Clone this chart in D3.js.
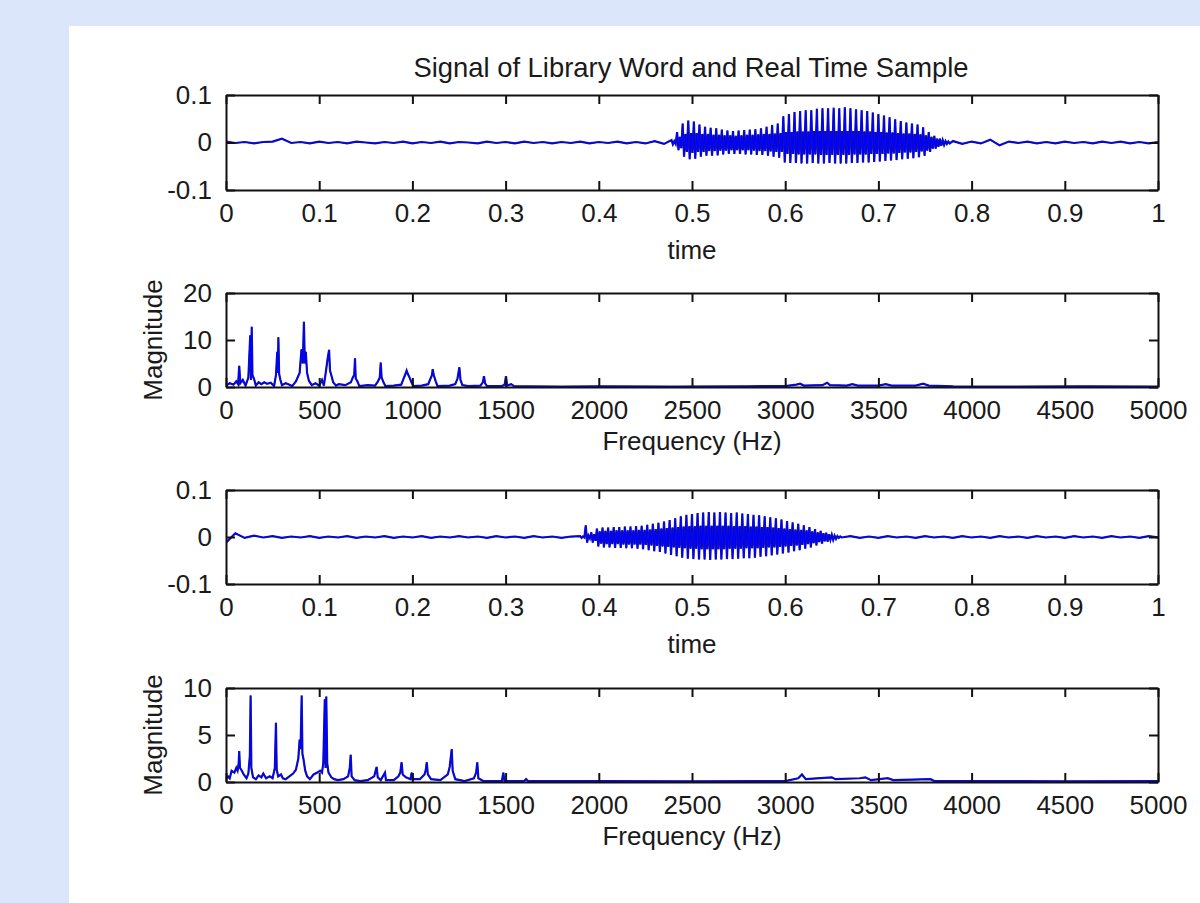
<!DOCTYPE html>
<html>
<head>
<meta charset="utf-8">
<script src="https://cdn.jsdelivr.net/npm/d3@7"></script>
<style>
  html, body { margin: 0; padding: 0; background: #dce6fb; }
  svg { display: block; }
  text { font-family: "Liberation Sans", Arial, sans-serif; fill: #1a1a1a; }
</style>
</head>
<body>
<svg id="chart" width="1200" height="903"></svg>
<script>
// ---------------- DATA ----------------
const titleText = "Signal of Library Word and Real Time Sample";
const timeTicks = [0, 0.1, 0.2, 0.3, 0.4, 0.5, 0.6, 0.7, 0.8, 0.9, 1];
const freqTicks = [0, 500, 1000, 1500, 2000, 2500, 3000, 3500, 4000, 4500, 5000];
const sigYTicks = [-0.1, 0, 0.1];
const spec1YTicks = [0, 10, 20];
const spec2YTicks = [0, 5, 10];

// Time signals, amplitudes in thousandths (x 0.001)
// quiet start: t = 0, 0.01, 0.02 ...
const sig1QuietStart = [2,-1,1,-2,1,2,8,-1,1,-2,2,-1,1,-2,2,0,-2,1,-1,2,-2,1,-1,2,-2,1,0,-2,2,-1,1,-2,2,-1,1,-2,1,-1,2,-2,1,-1,2,-2,1,-2,3,-3];
// voiced: from t = 0.478, step 0.0015
const sig1VoicedStart = 0.478;
const sig1Voiced = [
 5,-4,3,-3, 22,-16,12,-12, 40,-30,18,-20, 46,-35,20,-22, 44,-34,20,-20,
 38,-30,18,-20, 33,-28,18,-18, 31,-28,16,-18, 30,-27,16,-17, 27,-25,15,-17,
 25,-24,15,-16, 24,-24,14,-16, 25,-24,15,-16, 26,-25,16,-16, 27,-25,16,-17,
 28,-26,17,-18, 30,-26,18,-18, 33,-28,18,-19, 37,-30,19,-20, 40,-32,20,-20,
 55,-42,22,-24, 60,-43,22,-24, 64,-43,23,-25, 66,-44,23,-25, 68,-44,23,-25,
 68,-43,24,-25, 71,-44,24,-26, 72,-44,24,-26, 72,-43,24,-26, 73,-44,24,-26,
 72,-44,24,-26, 74,-44,24,-26, 72,-43,24,-25, 70,-43,24,-25, 68,-42,23,-25,
 66,-42,23,-24, 63,-41,22,-24, 60,-40,22,-24, 57,-39,21,-23, 53,-38,21,-23,
 49,-37,20,-22, 45,-35,19,-21, 42,-34,19,-21, 40,-33,18,-20, 38,-31,17,-19,
 32,-28,15,-17, 22,-20,12,-13, 14,-13,8,-9, 8,-7,5,-5, 3,-3,2,-2
];
// quiet end: t = 0.78, 0.79 ... 1.00
const sig1QuietEndStart = 0.78;
const sig1QuietEnd = [3,-3,2,-2,6,-6,2,-1,2,-2,1,-2,2,-1,1,-2,2,-1,2,-2,1,-2,1];

const sig2QuietStart = [-12,8,-2,3,-1,2,-2,1,-1,2,-2,1,-1,2,-2,1,-1,2,-2,1,-1,2,-2,1,-1,2,-1,1,-2,2,-1,1,-2,2,-1,1,-2,1];
const sig2VoicedStart = 0.380;
const sig2Voiced = [
 2,-2,1,-1, 25,-12,3,-3,
 10,-12,6,-8, 18,-20,12,-14, 20,-22,13,-15, 20,-22,13,-15, 21,-23,14,-15,
 21,-23,14,-16, 22,-24,14,-16, 22,-24,14,-16, 23,-25,15,-16, 24,-26,15,-17,
 26,-28,16,-18, 28,-30,17,-19, 30,-32,18,-20, 33,-35,19,-21, 36,-38,20,-22,
 40,-41,21,-23, 44,-44,22,-24, 47,-46,23,-25, 49,-47,23,-25, 51,-48,24,-26,
 52,-48,24,-26, 53,-49,24,-26, 52,-48,24,-26, 53,-48,24,-26, 52,-47,24,-25,
 51,-47,23,-25, 52,-46,23,-25, 50,-45,23,-24, 49,-45,22,-24, 47,-44,22,-24,
 46,-42,21,-23, 44,-41,21,-22, 42,-39,20,-22, 40,-37,19,-21, 37,-35,18,-20,
 34,-33,17,-19, 31,-30,16,-18, 28,-28,15,-17, 25,-25,14,-15, 21,-22,12,-13,
 17,-18,10,-11, 13,-14,8,-9, 9,-10,6,-6, 5,-6,3,-4, 2,-2,1,-1
];
const sig2QuietEndStart = 0.67;
const sig2QuietEnd = [2,-2,1,-2,2,-1,1,-2,2,-1,1,-2,2,-1,1,-2,2,-1,1,-2,2,-1,1,-2,2,-1,1,-2,2,-1,1,-2,2,-1];

// Spectra: [frequency Hz, magnitude]
const spec1 = [
 [0,0.3],[20,0.8],[40,0.5],[55,1.2],[65,0.6],[71,4.5],[77,0.8],[90,1.5],[105,0.3],[120,2],[130,11],[134,1.5],[138,12.8],[142,2.5],[150,1.8],[160,0.3],
 [175,1],[190,0.6],[205,1],[220,0.7],[240,0.9],[258,0.2],[268,2.5],[275,7.5],[278,3],[281,10.6],[285,2.8],[292,1.5],[300,0.4],[320,0.8],[340,0.5],[355,0.2],
 [375,1.2],[395,3],[405,8],[412,5],[418,13.9],[423,5],[428,7.5],[435,3],[445,1.3],[460,0.4],[480,0.8],[500,0.3],[515,1.5],[525,0.3],[535,3],[545,6],[553,7.9],
 [558,3.5],[565,2.5],[575,1],[590,0.3],[605,0.6],[640,0.4],[670,1],[680,2],[688,2.6],[692,6.1],[696,1.8],[705,1.2],[715,0.2],[760,0.4],[800,0.3],[815,1.2],
 [825,2],[830,5.2],[835,2],[845,1],[855,0.2],[900,0.3],[940,0.5],[950,1.5],[960,2.5],[969,3.5],[975,2.8],[985,2],[995,1],[1005,0.2],[1050,0.3],[1085,0.6],
 [1095,1.6],[1105,2.5],[1109,3.8],[1115,2.5],[1125,1.2],[1135,0.2],[1200,0.3],[1230,0.6],[1242,1.8],[1252,4.2],[1258,1.5],[1268,0.4],[1300,0.2],[1365,0.3],
 [1378,1],[1384,2.3],[1390,0.8],[1400,0.2],[1480,0.2],[1495,0.5],[1502,2.3],[1508,0.3],[1530,0.6],[1545,0.2],[1600,0.15],[1800,0.1],[2000,0.15],[2400,0.1],
 [2800,0.15],[3000,0.2],[3060,0.5],[3080,0.7],[3100,0.3],[3200,0.4],[3225,0.9],[3240,0.4],[3330,0.3],[3360,0.6],[3390,0.3],[3500,0.3],[3540,0.6],[3570,0.3],
 [3700,0.3],[3740,0.7],[3770,0.3],[3900,0.15],[4200,0.1],[4600,0.12],[5000,0.1]
];
const spec2 = [
 [0,0.3],[10,0.6],[20,0.4],[30,1.2],[45,1],[55,1.5],[62,1.2],[68,2],[71,3.3],[75,1.5],[85,1.2],[95,0.8],[110,0.4],[120,0.9],[128,2.8],[132,9.2],[136,1.5],
 [145,0.5],[160,0.3],[175,0.7],[190,0.5],[200,0.9],[215,0.4],[235,0.6],[250,0.4],[262,1.5],[268,6.3],[272,1.3],[280,0.6],[295,0.8],[305,0.4],[320,0.3],
 [340,0.6],[360,0.9],[375,1.3],[388,2.5],[395,4.5],[400,3.5],[406,9.2],[410,3],[416,2.4],[425,1.2],[435,0.6],[450,0.3],[470,0.8],[490,1],[505,1.2],[515,1],
 [522,2],[530,8.8],[534,1.5],[538,9.1],[543,2],[550,1],[565,0.5],[580,0.3],[600,0.2],[630,0.3],[655,0.6],[664,1.5],[669,2.9],[674,0.6],[690,0.2],[720,0.1],
 [760,0.2],[795,0.6],[808,1.6],[814,0.5],[830,0.2],[853,1],[858,0.2],[900,0.2],[925,0.6],[935,1],[942,2.1],[948,0.8],[965,0.5],[990,0.3],[996,1],[1002,0.3],
 [1040,0.3],[1065,0.8],[1072,1.3],[1077,2.1],[1083,0.8],[1100,0.3],[1150,0.2],[1190,0.8],[1200,1.6],[1211,3.5],[1216,1.2],[1230,0.3],[1280,0.1],[1330,0.4],
 [1342,1],[1348,2.1],[1354,0.4],[1380,0.1],[1480,0.1],[1488,1],[1494,0.1],[1600,0.1],[1610,0.3],[1620,0.1],[2000,0.1],[2500,0.08],[3000,0.1],[3070,0.4],
 [3090,0.8],[3110,0.3],[3250,0.5],[3270,0.3],[3400,0.4],[3430,0.5],[3460,0.2],[3550,0.4],[3580,0.2],[3780,0.3],[3800,0.1],[4500,0.08],[5000,0.1]
];

// ---------------- BUILD ----------------
function buildSignal(qStart, vStart, voiced, qEndStart, qEnd) {
  const pts = [];
  qStart.forEach((v, i) => pts.push([i * 0.01, v / 1000]));
  voiced.forEach((v, i) => pts.push([vStart + i * 0.0015, v / 1000]));
  qEnd.forEach((v, i) => pts.push([qEndStart + i * 0.01, v / 1000]));
  return pts;
}
const signal1 = buildSignal(sig1QuietStart, sig1VoicedStart, sig1Voiced, sig1QuietEndStart, sig1QuietEnd);
const signal2 = buildSignal(sig2QuietStart, sig2VoicedStart, sig2Voiced, sig2QuietEndStart, sig2QuietEnd);

const svg = d3.select("#chart");
svg.append("rect").attr("x", 0).attr("y", 0).attr("width", 1200).attr("height", 903).attr("fill", "#dce6fb");
svg.append("rect").attr("x", 69).attr("y", 26).attr("width", 1131).attr("height", 877).attr("fill", "#ffffff");

const left = 226, right = 1158;
const FS = 26;

const panels = [
  { data: signal1, top: 95, bottom: 190, x: [0, 1], y: [-0.1, 0.1], xt: timeTicks, yt: sigYTicks, xlabel: "time", xlOff: 69, ylabel: null },
  { data: spec1, top: 293, bottom: 387, x: [0, 5000], y: [0, 20], xt: freqTicks, yt: spec1YTicks, xlabel: "Frequency (Hz)", xlOff: 63, ylabel: "Magnitude" },
  { data: signal2, top: 490, bottom: 584, x: [0, 1], y: [-0.1, 0.1], xt: timeTicks, yt: sigYTicks, xlabel: "time", xlOff: 69, ylabel: null },
  { data: spec2, top: 688, bottom: 782, x: [0, 5000], y: [0, 10], xt: freqTicks, yt: spec2YTicks, xlabel: "Frequency (Hz)", xlOff: 63, ylabel: "Magnitude" }
];

const fmt = d => String(d);

panels.forEach((p, idx) => {
  const xs = d3.scaleLinear().domain(p.x).range([left, right]);
  const ys = d3.scaleLinear().domain(p.y).range([p.bottom, p.top]);
  const g = svg.append("g");

  const clipId = "clip" + idx;
  svg.append("clipPath").attr("id", clipId).append("rect")
    .attr("x", left).attr("y", p.top).attr("width", right - left).attr("height", p.bottom - p.top);

  const line = d3.line().x(d => xs(d[0])).y(d => ys(d[1]));
  // dark outline (emulates the compressed look of the original trace)
  g.append("path").datum(p.data)
    .attr("clip-path", `url(#${clipId})`)
    .attr("d", line)
    .attr("fill", "none")
    .attr("stroke", "#1c1c86")
    .attr("stroke-width", 2.2);
  g.append("path").datum(p.data)
    .attr("clip-path", `url(#${clipId})`)
    .attr("d", line)
    .attr("fill", "none")
    .attr("stroke", "#0000ff")
    .attr("stroke-width", 1.2);

  const axStyle = sel => {
    sel.selectAll("path.domain").attr("stroke", "#111").attr("stroke-width", 2);
    sel.selectAll(".tick line").attr("stroke", "#111").attr("stroke-width", 2);
    sel.selectAll("text").attr("font-size", FS).attr("font-family", '"Liberation Sans", Arial, sans-serif').attr("fill", "#1a1a1a");
  };

  g.append("g").attr("transform", `translate(0,${p.bottom})`)
    .call(d3.axisBottom(xs).tickValues(p.xt).tickFormat(fmt).tickSizeInner(-9).tickSizeOuter(0).tickPadding(13.5))
    .call(axStyle);
  g.append("g").attr("transform", `translate(0,${p.top})`)
    .call(d3.axisTop(xs).tickValues(p.xt).tickFormat("").tickSizeInner(-9).tickSizeOuter(0))
    .call(axStyle);
  g.append("g").attr("transform", `translate(${left},0)`)
    .call(d3.axisLeft(ys).tickValues(p.yt).tickFormat(fmt).tickSizeInner(-9).tickSizeOuter(0).tickPadding(14))
    .call(axStyle);
  g.append("g").attr("transform", `translate(${right},0)`)
    .call(d3.axisRight(ys).tickValues(p.yt).tickFormat("").tickSizeInner(-9).tickSizeOuter(0))
    .call(axStyle);

  g.append("text").attr("x", (left + right) / 2).attr("y", p.bottom + p.xlOff)
    .attr("text-anchor", "middle").attr("font-size", FS).text(p.xlabel);

  if (p.ylabel) {
    g.append("text")
      .attr("transform", `translate(162,${(p.top + p.bottom) / 2}) rotate(-90)`)
      .attr("text-anchor", "middle").attr("font-size", FS).text(p.ylabel);
  }
});

svg.append("text").attr("x", 691).attr("y", 77)
  .attr("text-anchor", "middle").attr("font-size", 27.4).text(titleText);
</script>
</body>
</html>
